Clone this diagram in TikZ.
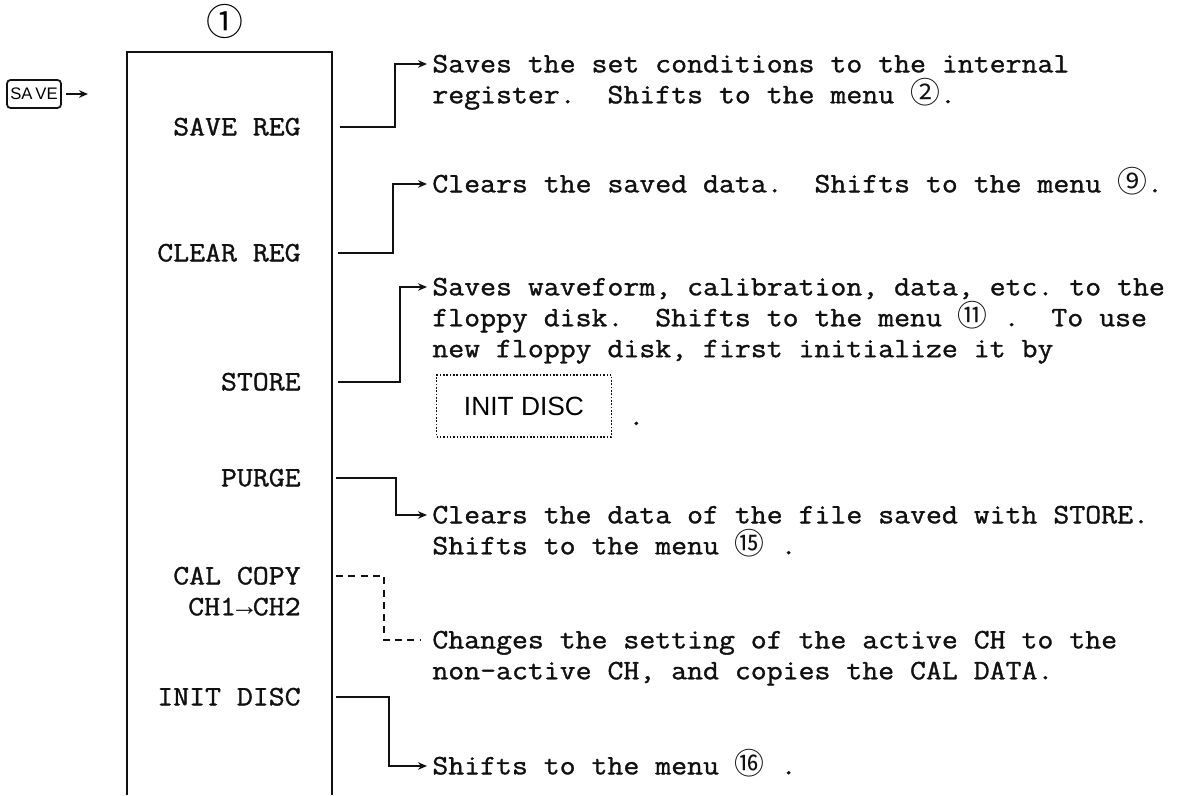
\documentclass[tikz,border=0pt]{standalone}
\usepackage{fontspec}
\setmainfont{Liberation Serif}
\setsansfont{Liberation Sans}
\setmonofont{Latin Modern Mono}[FakeStretch=1.1,FakeBold=1.2]
\newfontfamily\circfont{Noto Sans CJK SC}
\newfontfamily\arrowfont{Liberation Mono}
\usepackage{tikz}
\usetikzlibrary{calc,arrows.meta,positioning}
\definecolor{inkx}{HTML}{111111}
\newcommand{\tstrut}{\rule{0pt}{14pt}}
\newcommand{\cnum}[1]{\smash{\circfont\fontsize{17}{17.6}\selectfont #1}}
\tikzset{
  frame/.style={line width=1.1pt,inkx},
  ar/.style={-{Stealth[length=1.8mm,width=1.5mm]},line width=1pt,inkx},
  dl/.style={line width=0.9pt,inkx,dash pattern=on 4pt off 3pt},
  item/.style={anchor=north east,inner sep=0pt,align=right,inkx,font=\ttfamily\fontsize{16}{17.6}\selectfont},
  desc/.style={anchor=north west,inner sep=0pt,align=left,inkx,font=\ttfamily\fontsize{16}{17.6}\selectfont},
  keybox/.style={draw=inkx,line width=1pt,rounded corners=2pt,minimum width=1.08cm,minimum height=0.56cm,inner sep=1pt,font=\sffamily\fontsize{9.5}{10}\selectfont},
  softkey/.style={draw=inkx,densely dotted,line width=0.9pt,minimum width=3.5cm,minimum height=1.24cm,inner sep=0pt,font=\sffamily\fontsize{15}{16}\selectfont}
}

\begin{document}
\begin{tikzpicture}[x=0.02cm,y=-0.02cm]
\useasboundingbox (0,0) rectangle (1197,795);
% menu frame, open at the bottom
\coordinate (menuTL) at (127,52);
\coordinate (menuTR) at (332,52);
\draw[frame] (127,795) -- (menuTL) -- (menuTR) -- (332,795);
\node[font=\circfont\fontsize{21}{21}\selectfont] (num1) at (225,21) {①};
\node[keybox] (savekey) at (34,94) {SA\,VE};
\coordinate (keyend) at (88,94);
\draw[ar,line width=0.8pt] ($(savekey.east)+(4,0)$) -- (keyend);

% menu entries (north = first baseline - 24.6)
\node[item] (savereg) at (301,110.4) {\tstrut SAVE REG};
\node[item] (clearreg) at (301,236.4) {\tstrut CLEAR REG};
\node[item] (store) at (301,365.4) {\tstrut STORE};
\node[item] (purge) at (301,461.4) {\tstrut PURGE};
\node[item] (calcopy) at (301,559.4) {\tstrut CAL COPY\\CH1{\arrowfont →}CH2};
\node[item] (initdisc) at (301,680.4) {\tstrut INIT DISC};

% descriptions
\node[desc] (d1) at (432,47.4) {\tstrut Saves the set conditions to the internal\\register.~ Shifts to the menu \cnum{②}.};
\node[desc] (d2) at (432,167.4) {\tstrut Clears the saved data.~ Shifts to the menu \cnum{⑨}.};
\node[desc] (d3) at (432,270.4) {\tstrut Saves waveform, calibration, data, etc. to the\\floppy disk.~ Shifts to the menu \cnum{⑪} .~ To use\\new floppy disk, first initialize it by};
\node[softkey] (initkey) at (524,406) {INIT DISC};
\node[desc,anchor=base west] (initdot) at (628,425) {.};
\node[desc] (d4) at (432,498.4) {\tstrut Clears the data of the file saved with STORE.\\Shifts to the menu \cnum{⑮} .};
\node[desc] (d5) at (432,623.4) {\tstrut Changes the setting of the active CH to the\\non-active CH, and copies the CAL DATA.};
\node[desc] (d6) at (432,749.4) {\tstrut Shifts to the menu \cnum{⑯} .};

% connectors
\draw[ar] ($(savereg.north east)+(39,16.6)$) -| ($(d1.north west)+(-37,16.6)$) -- ($(d1.north west)+(-5,16.6)$);
\draw[ar] ($(clearreg.north east)+(37,16.6)$) -| ($(d2.north west)+(-39,16.6)$) -- ($(d2.north west)+(-5,16.6)$);
\draw[ar] ($(store.north east)+(37,16.6)$) -| ($(d3.north west)+(-32,16.6)$) -- ($(d3.north west)+(-5,16.6)$);
\draw[ar] ($(purge.north east)+(35,16.6)$) -| ($(d4.north west)+(-36,16.6)$) -- ($(d4.north west)+(-5,16.6)$);
\draw[dl] ($(calcopy.north east)+(35,16.6)$) -| ($(d5.north west)+(-48,16.6)$) -- ($(d5.north west)+(-12,16.6)$);
\draw[ar] ($(initdisc.north east)+(35,16.6)$) -| ($(d6.north west)+(-43,16.6)$) -- ($(d6.north west)+(-5,16.6)$);
\end{tikzpicture}
\end{document}
